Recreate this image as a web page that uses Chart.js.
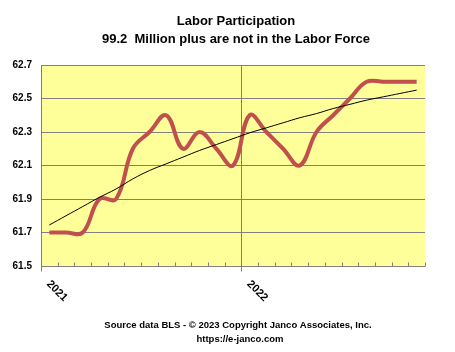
<!DOCTYPE html>
<html>
<head>
<meta charset="utf-8">
<script src="https://cdn.jsdelivr.net/npm/chart.js@4/dist/chart.umd.min.js"></script>
<style>
  html, body { margin: 0; padding: 0; background: #fff; }
  #wrap { width: 455px; height: 352px; }
</style>
</head>
<body>
<div id="wrap"><canvas id="myChart" width="455" height="352"></canvas></div>
<script>
const months = [
  "Jan 2021", "Feb 2021", "Mar 2021", "Apr 2021", "May 2021", "Jun 2021",
  "Jul 2021", "Aug 2021", "Sep 2021", "Oct 2021", "Nov 2021", "Dec 2021",
  "Jan 2022", "Feb 2022", "Mar 2022", "Apr 2022", "May 2022", "Jun 2022",
  "Jul 2022", "Aug 2022", "Sep 2022", "Oct 2022", "Nov 2022",
];
const participation = [
  61.7, 61.7, 61.7, 61.9, 61.9, 62.2, 62.3, 62.4, 62.2, 62.3, 62.2, 62.1,
  62.4, 62.3, 62.2, 62.1, 62.3, 62.4, 62.5, 62.6, 62.6, 62.6, 62.6,
];
const trend = [
  61.745, 61.80, 61.855, 61.91, 61.96, 62.02, 62.07, 62.11, 62.15, 62.19, 62.225, 62.26,
  62.295, 62.325, 62.355, 62.385, 62.41, 62.44, 62.465, 62.49, 62.51, 62.53, 62.55,
];
const yearLabels = ["2021", "2022"];
const yearStart = [0, 12];
const titleLines = ["Labor Participation", "99.2  Million plus are not in the Labor Force"];
const footerLines = ["Source data BLS - \u00a9 2023 Copyright Janco Associates, Inc.", "https://e-janco.com"];

const gray = "#808080";

const decor = {
  id: "decor",
  beforeDraw(chart) {
    const { ctx, chartArea } = chart;
    ctx.save();
    ctx.fillStyle = "#FFFF99";
    ctx.fillRect(chartArea.left, chartArea.top, chartArea.right - chartArea.left, chartArea.bottom - chartArea.top);
    ctx.restore();
  },
  beforeDatasetsDraw(chart) {
    const { ctx, chartArea, scales } = chart;
    const x = scales.x;
    const step = x.getPixelForValue(1) - x.getPixelForValue(0);
    const bottom = Math.round(chartArea.bottom) + 0.5;
    ctx.save();
    ctx.strokeStyle = gray;
    ctx.lineWidth = 1;
    // small ticks at each category boundary
    for (let k = 0; k <= months.length; k++) {
      const px = Math.round(x.getPixelForValue(k) - step / 2) + 0.5;
      ctx.beginPath();
      ctx.moveTo(px, bottom - 4);
      ctx.lineTo(px, bottom);
      ctx.stroke();
    }
    // left axis and year boundary lines
    yearStart.forEach((i) => {
      const px = Math.round(x.getPixelForValue(i) - step / 2) + 0.5;
      ctx.beginPath();
      ctx.moveTo(px, chartArea.top);
      ctx.lineTo(px, bottom + 5);
      ctx.stroke();
    });
    ctx.restore();
  },
  afterDraw(chart) {
    const { ctx, chartArea, scales } = chart;
    const x = scales.x;
    const step = x.getPixelForValue(1) - x.getPixelForValue(0);
    ctx.save();
    ctx.fillStyle = "#000";
    ctx.font = "bold 11px 'Liberation Sans', Arial, sans-serif";
    ctx.textAlign = "center";
    ctx.textBaseline = "middle";
    yearLabels.forEach((lab, j) => {
      const px = x.getPixelForValue(yearStart[j]) - step / 2;
      ctx.save();
      ctx.translate(px + 16, chartArea.bottom + 25);
      ctx.rotate(Math.PI / 4);
      ctx.fillText(lab, 0, 0);
      ctx.restore();
    });

    ctx.font = "bold 13px 'Liberation Sans', sans-serif";
    ctx.fillText(titleLines[0], 236, 21);
    ctx.fillText(titleLines[1], 236, 39);

    ctx.font = "bold 9.5px 'Liberation Sans', sans-serif";
    ctx.fillText(footerLines[0], 238, 325);
    ctx.fillText(footerLines[1], 240, 339);
    ctx.restore();
  },
};

new Chart(document.getElementById("myChart"), {
  type: "line",
  data: {
    labels: months,
    datasets: [
      {
        label: "Trend",
        data: trend,
        borderColor: "#000000",
        borderWidth: 1,
        pointRadius: 0,
        tension: 0.4,
      },
      {
        label: "Labor Participation",
        data: participation,
        borderColor: "#C0504D",
        borderWidth: 4,
        pointRadius: 0,
        tension: 0.4,
      },
    ],
  },
  options: {
    responsive: false,
    animation: false,
    layout: { padding: { top: 65, bottom: 86, right: 30, left: 0 } },
    plugins: {
      legend: { display: false },
      title: { display: false },
      tooltip: { enabled: false },
    },
    scales: {
      x: {
        type: "category",
        offset: true,
        grid: { display: false },
        border: { display: false },
        ticks: { display: false },
        afterFit: (scale) => { scale.height = 0; },
      },
      y: {
        min: 61.5,
        max: 62.7,
        ticks: {
          stepSize: 0.2,
          padding: 9,
          color: "#000",
          font: { family: "'Liberation Sans', Arial, sans-serif", size: 10, weight: "bold" },
          callback: (v) => v.toFixed(1),
        },
        grid: { color: gray, lineWidth: 1, drawTicks: false },
        border: { display: true, color: gray },
        afterFit: (scale) => { scale.width = 41; },
      },
    },
  },
  plugins: [decor],
});
</script>
</body>
</html>
